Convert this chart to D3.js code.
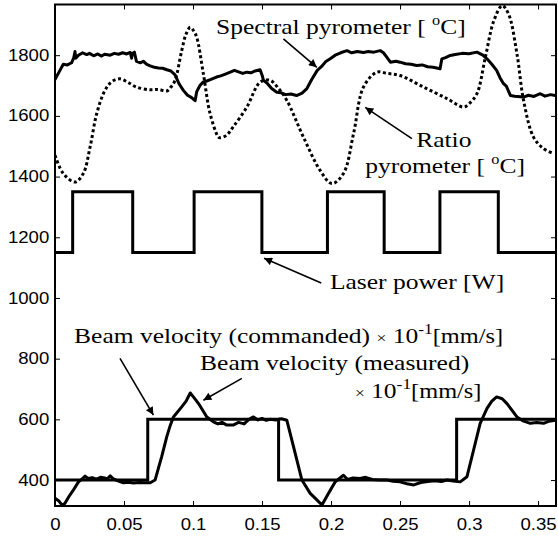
<!DOCTYPE html>
<html>
<head>
<meta charset="utf-8">
<script src="https://cdn.jsdelivr.net/npm/d3@7"></script>
<style>
  body { margin: 0; background: #fff; }
</style>
</head>
<body>
<div id="chart"></div>
<script>
// time [s], value pairs
const spectral = [[0,1720],[0.003,1745],[0.006,1770],[0.009,1768],[0.012,1775],[0.0135,1790],[0.0145,1812],[0.015,1790],[0.017,1800],[0.02,1808],[0.023,1802],[0.025,1806],[0.028,1798],[0.031,1804],[0.0335,1797],[0.036,1803],[0.04,1800],[0.043,1806],[0.046,1803],[0.049,1808],[0.052,1804],[0.0545,1809],[0.0555,1790],[0.056,1805],[0.0575,1810],[0.059,1780],[0.062,1775],[0.064,1780],[0.0665,1770],[0.069,1765],[0.072,1760],[0.075,1758],[0.078,1757],[0.081,1752],[0.084,1748],[0.087,1735],[0.09,1705],[0.093,1684],[0.096,1668],[0.099,1660],[0.1015,1650],[0.1027,1680],[0.105,1700],[0.1075,1712],[0.11,1715],[0.113,1720],[0.117,1728],[0.12,1732],[0.123,1737],[0.127,1744],[0.13,1750],[0.133,1745],[0.136,1740],[0.139,1744],[0.142,1742],[0.145,1748],[0.1486,1752],[0.15,1735],[0.151,1718],[0.154,1706],[0.157,1690],[0.1607,1678],[0.164,1676],[0.167,1670],[0.171,1672],[0.175,1667],[0.179,1675],[0.1825,1690],[0.186,1720],[0.19,1750],[0.193,1762],[0.196,1778],[0.1994,1788],[0.203,1800],[0.207,1808],[0.2115,1815],[0.215,1808],[0.219,1812],[0.2235,1809],[0.227,1812],[0.231,1810],[0.2356,1815],[0.238,1808],[0.2405,1793],[0.243,1777],[0.247,1780],[0.25,1777],[0.254,1772],[0.258,1770],[0.262,1766],[0.266,1768],[0.27,1762],[0.274,1760],[0.279,1755],[0.2803,1788],[0.283,1792],[0.2864,1799],[0.29,1802],[0.295,1806],[0.3,1805],[0.3057,1810],[0.31,1800],[0.313,1788],[0.3165,1770],[0.32,1750],[0.3225,1725],[0.325,1706],[0.327,1698],[0.33,1667],[0.333,1665],[0.3395,1662],[0.343,1668],[0.347,1664],[0.3516,1673],[0.355,1665],[0.359,1670],[0.3625,1667]];

const ratio = [[0,1470],[0.006,1410],[0.0145,1382],[0.0205,1410],[0.0254,1497],[0.0302,1607],[0.0362,1684],[0.041,1712],[0.047,1722],[0.053,1710],[0.059,1695],[0.0689,1686],[0.075,1687],[0.081,1682],[0.084,1695],[0.087,1717],[0.0918,1815],[0.095,1870],[0.098,1892],[0.1005,1880],[0.1027,1859],[0.1075,1739],[0.1124,1607],[0.1184,1530],[0.1196,1528],[0.124,1535],[0.129,1563],[0.139,1629],[0.1486,1711],[0.156,1717],[0.162,1690],[0.168,1651],[0.18,1530],[0.192,1421],[0.2006,1377],[0.209,1410],[0.2163,1541],[0.2235,1695],[0.2332,1744],[0.2405,1740],[0.25,1733],[0.267,1695],[0.284,1657],[0.296,1629],[0.3,1640],[0.3057,1673],[0.3118,1793],[0.318,1914],[0.324,1963],[0.3286,1936],[0.3347,1805],[0.3395,1651],[0.3467,1530],[0.354,1492],[0.3613,1476]];

const laser = [[0,1150],[0.0128,1350],[0.0563,1150],[0.1008,1350],[0.1499,1150],[0.1974,1350],[0.2385,1150],[0.2789,1350],[0.3212,1150],[0.363,1150]];

const velCommanded = [[0,400],[0.0672,600],[0.162,400],[0.291,600],[0.363,600]];

const velMeasured = [[0,340],[0.003,330],[0.005,318],[0.007,322],[0.01,345],[0.013,365],[0.017,394],[0.02,405],[0.0218,413],[0.024,405],[0.027,408],[0.03,403],[0.033,409],[0.036,407],[0.038,404],[0.04,414],[0.042,405],[0.045,398],[0.0495,391],[0.053,393],[0.057,390],[0.061,392],[0.065,391],[0.069,391],[0.0725,400],[0.075,440],[0.0773,477],[0.081,543],[0.0835,580],[0.0858,608],[0.0918,641],[0.095,660],[0.098,687],[0.101,670],[0.104,652],[0.107,630],[0.11,608],[0.1148,592],[0.118,585],[0.121,590],[0.1245,581],[0.129,581],[0.133,590],[0.137,585],[0.1405,600],[0.1438,608],[0.147,598],[0.15,603],[0.153,597],[0.156,600],[0.16,598],[0.164,602],[0.168,597],[0.1728,510],[0.1789,400],[0.1849,356],[0.189,338],[0.1934,318],[0.198,355],[0.203,394],[0.206,405],[0.209,416],[0.212,402],[0.216,407],[0.2211,405],[0.225,409],[0.23,402],[0.235,400],[0.2405,400],[0.245,396],[0.25,394],[0.255,388],[0.26,384],[0.265,392],[0.27,395],[0.275,398],[0.28,395],[0.284,400],[0.2885,397],[0.2936,394],[0.2985,411],[0.3033,499],[0.308,586],[0.313,636],[0.3165,660],[0.32,674],[0.324,668],[0.3275,652],[0.3347,608],[0.339,595],[0.3444,587],[0.349,590],[0.354,587],[0.358,594],[0.3625,597]];

const xTicks = [0, 0.05, 0.1, 0.15, 0.2, 0.25, 0.3, 0.35];
const xTickLabels = ["0", "0.05", "0.1", "0.15", "0.2", "0.25", "0.3", "0.35"];
const yTicks = [400, 600, 800, 1000, 1200, 1400, 1600, 1800];

// arrows: [fromT, fromV, toT, toV]
const arrows = [
  [0.1655, 1854, 0.1897, 1760],
  [0.2586, 1525, 0.2248, 1628],
  [0.1929, 1049, 0.1515, 1131],
  [0.0471, 801, 0.0713, 614],
  [0.1354, 735, 0.1075, 663]
];

const width = 558, height = 540;
const mLeft = 55, mRight = 556, mTop = 4.5, mBottom = 506;
const stretch = 1.16;
const serif = "'Liberation Serif', 'Times New Roman', serif";
const sans = "'Liberation Sans', Arial, sans-serif";

const x = d3.scaleLinear().domain([0, 0.363]).range([mLeft, mRight]);
const y = d3.scaleLinear().domain([314.5, 1967]).range([mBottom, mTop]);

const svg = d3.select("#chart").append("svg")
  .attr("width", width)
  .attr("height", height)
  .style("background", "#fff");

const defs = svg.append("defs");
defs.append("clipPath").attr("id", "plot")
  .append("rect").attr("x", mLeft).attr("y", mTop)
  .attr("width", mRight - mLeft).attr("height", mBottom - mTop);

defs.append("marker")
  .attr("id", "head")
  .attr("viewBox", "0 0 10 10")
  .attr("refX", 10).attr("refY", 5)
  .attr("markerWidth", 11).attr("markerHeight", 8)
  .attr("markerUnits", "userSpaceOnUse")
  .attr("orient", "auto")
  .append("path").attr("d", "M0,0L10,5L0,10Z").attr("fill", "#000");

// axes with inward ticks, mirrored on the right and top
const xAxis = d3.axisBottom(x).tickValues(xTicks)
  .tickFormat((d, i) => xTickLabels[i]).tickSizeInner(-5).tickSizeOuter(0).tickPadding(13);
const yAxis = d3.axisLeft(y).tickValues(yTicks)
  .tickFormat(d3.format("d")).tickSizeInner(-5).tickSizeOuter(0).tickPadding(5);

const gx = svg.append("g").attr("transform", `translate(0,${mBottom})`).call(xAxis);
const gy = svg.append("g").attr("transform", `translate(${mLeft},0)`).call(yAxis);
svg.append("g").attr("transform", `translate(0,${mTop})`)
  .call(d3.axisTop(x).tickValues(xTicks).tickSizeInner(-5).tickSizeOuter(0).tickFormat(""));
svg.append("g").attr("transform", `translate(${mRight},0)`)
  .call(d3.axisRight(y).tickValues(yTicks).tickSizeInner(-5).tickSizeOuter(0).tickFormat(""));

svg.selectAll(".domain").remove();
svg.selectAll(".tick line").attr("stroke", "#000");
[gx, gy].forEach(g => g.selectAll("text")
  .attr("fill", "#000")
  .style("font-family", sans)
  .style("font-size", "16px"));
gx.selectAll("text").attr("transform", `scale(${stretch},1)`);
gy.selectAll("text").attr("transform", `scale(${stretch},1)`);

const line = d3.line().x(d => x(d[0])).y(d => y(d[1]));
const stepLine = d3.line().x(d => x(d[0])).y(d => y(d[1])).curve(d3.curveStepAfter);
const smoothLine = d3.line().x(d => x(d[0])).y(d => y(d[1])).curve(d3.curveCatmullRom);

const plot = svg.append("g").attr("clip-path", "url(#plot)");

plot.append("path").datum(ratio)
  .attr("d", smoothLine).attr("fill", "none").attr("stroke", "#000")
  .attr("stroke-width", 3).attr("stroke-dasharray", "3,2.6");

plot.append("path").datum(spectral)
  .attr("d", line).attr("fill", "none").attr("stroke", "#000")
  .attr("stroke-width", 3).attr("stroke-linejoin", "round");

plot.append("path").datum(laser)
  .attr("d", stepLine).attr("fill", "none").attr("stroke", "#000").attr("stroke-width", 3);

plot.append("path").datum(velCommanded)
  .attr("d", stepLine).attr("fill", "none").attr("stroke", "#000").attr("stroke-width", 3);

plot.append("path").datum(velMeasured)
  .attr("d", line).attr("fill", "none").attr("stroke", "#000")
  .attr("stroke-width", 3).attr("stroke-linejoin", "round");

// frame
svg.append("rect")
  .attr("x", mLeft).attr("y", mTop)
  .attr("width", mRight - mLeft).attr("height", mBottom - mTop)
  .attr("fill", "none").attr("stroke", "#000").attr("stroke-width", 2);

// arrows
svg.selectAll(".arrow").data(arrows).enter()
  .append("line").attr("class", "arrow")
  .attr("x1", d => x(d[0])).attr("y1", d => y(d[1]))
  .attr("x2", d => x(d[2])).attr("y2", d => y(d[3]))
  .attr("stroke", "#000").attr("stroke-width", 1.6)
  .attr("marker-end", "url(#head)");

// annotation text; parts: [text, size, dy]
function label(t, v, parts) {
  const txt = svg.append("text")
    .attr("transform", `translate(${x(t)},${y(v)}) scale(${stretch},1)`)
    .style("font-family", serif)
    .attr("fill", "#000");
  parts.forEach(p => {
    txt.append("tspan").attr("font-size", p[1]).attr("dy", p[2] || 0).text(p[0]);
  });
}

const deg = [["[ ", 22], ["o", 14, -9], ["C", 22, 9], ["]", 22]];
const unit = [["×", 15], [" 10", 22], ["-1", 15, -9], ["[mm/s]", 21, 9]];

label(0.1167, 1871, [["Spectral pyrometer ", 22]].concat(deg));
label(0.2617, 1497, [["Ratio", 22]]);
label(0.2248, 1411, [["pyrometer ", 22]].concat(deg));
label(0.1992, 1031, [["Laser power [W]", 22]]);
label(0.0138, 852, [["Beam velocity (commanded) ", 22]].concat(unit));
label(0.1051, 762, [["Beam velocity (measured)", 22]]);
label(0.2173, 669, unit);
</script>
</body>
</html>
